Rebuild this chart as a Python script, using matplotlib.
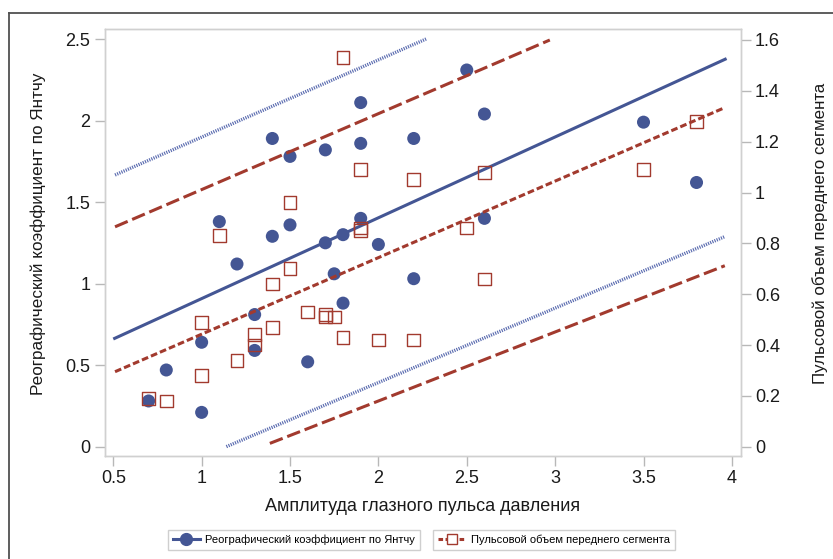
import matplotlib
matplotlib.use("Agg")
import matplotlib.pyplot as plt
from matplotlib.lines import Line2D

plt.rcParams['font.family'] = ['Liberation Sans', 'DejaVu Sans']

# ---- данные ----
# реографический коэффициент (левая ось), кружки
rk_x = [0.7, 0.8, 1.0, 1.0, 1.1, 1.2, 1.3, 1.3, 1.4, 1.4, 1.5, 1.5, 1.6, 1.7, 1.7,
        1.75, 1.8, 1.8, 1.9, 1.9, 1.9, 2.0, 2.2, 2.2, 2.5, 2.6, 2.6, 3.5, 3.8]
rk_y = [0.28, 0.47, 0.21, 0.64, 1.38, 1.12, 0.59, 0.81, 1.29, 1.89, 1.36, 1.78, 0.52, 1.25, 1.82,
        1.06, 0.88, 1.30, 1.40, 1.86, 2.11, 1.24, 1.03, 1.89, 2.31, 1.40, 2.04, 1.99, 1.62]

# пульсовой объем (правая ось), квадраты
po_x = [0.7, 0.8, 1.0, 1.0, 1.1, 1.2, 1.3, 1.3, 1.4, 1.4, 1.5, 1.5, 1.6, 1.7, 1.7,
        1.75, 1.8, 1.8, 1.9, 1.9, 1.9, 2.0, 2.2, 2.2, 2.5, 2.6, 2.6, 3.5, 3.8]
po_y = [0.19, 0.18, 0.28, 0.49, 0.83, 0.34, 0.40, 0.44, 0.47, 0.64, 0.70, 0.96, 0.53, 0.52, 0.51,
        0.51, 0.43, 1.53, 0.86, 0.85, 1.09, 0.42, 0.42, 1.05, 0.86, 0.66, 1.08, 1.09, 1.28]

# линии регрессии и границы прогноза (концы отрезков)
rk_fit_x, rk_fit_y = [0.5, 3.97], [0.66, 2.38]
rk_up_x, rk_up_y = [0.51, 2.27], [1.666, 2.5]
rk_lo_x, rk_lo_y = [1.14, 3.96], [0.0, 1.288]
po_fit_x, po_fit_y = [0.51, 3.96], [0.295, 1.334]
po_up_x, po_up_y = [0.51, 2.97], [0.865, 1.6]
po_lo_x, po_lo_y = [1.386, 3.96], [0.013, 0.712]

x_ticks = [0.5, 1, 1.5, 2, 2.5, 3, 3.5, 4]
x_labels = ['0.5', '1', '1.5', '2', '2.5', '3', '3.5', '4']
yl_ticks = [0, 0.5, 1, 1.5, 2, 2.5]
yl_labels = ['0', '0.5', '1', '1.5', '2', '2.5']
yr_ticks = [0, 0.2, 0.4, 0.6, 0.8, 1, 1.2, 1.4, 1.6]
yr_labels = ['0', '0.2', '0.4', '0.6', '0.8', '1', '1.2', '1.4', '1.6']

name1 = 'Реографический коэффициент по Янтчу'
name2 = 'Пульсовой объем переднего сегмента'

BLUE = '#445694'
BLUE_DOT = '#5b6cb0'
RED = '#a23a2e'
GRID = '#d0d0d0'

fig = plt.figure(figsize=(8.33, 5.59), dpi=100)
ax1 = fig.add_axes([0.126, 0.185, 0.763, 0.763])
ax2 = ax1.twinx()

# левая ось
ax1.plot(rk_fit_x, rk_fit_y, color=BLUE, lw=2.2, solid_capstyle='butt', zorder=3)
ax1.plot(rk_up_x, rk_up_y, color=BLUE_DOT, lw=2.4, ls=(0, (0.35, 0.35)), zorder=3)
ax1.plot(rk_lo_x, rk_lo_y, color=BLUE_DOT, lw=2.4, ls=(0, (0.35, 0.35)), zorder=3)
ax1.scatter(rk_x, rk_y, s=88, color=BLUE, edgecolors='none', zorder=4)

# правая ось
ax2.plot(po_fit_x, po_fit_y, color=RED, lw=2.2, ls=(0, (2.2, 1.0)), zorder=3)
ax2.plot(po_up_x, po_up_y, color=RED, lw=2.2, ls=(0, (4.5, 1.6)), zorder=3)
ax2.plot(po_lo_x, po_lo_y, color=RED, lw=2.2, ls=(0, (4.5, 1.6)), zorder=3)
ax2.scatter(po_x, po_y, s=85, marker='s', facecolors='none', edgecolors=RED,
            linewidths=1.0, zorder=4)

ax1.set_xlim(0.453, 4.049)
ax1.set_ylim(-0.055, 2.561)
ax2.set_ylim(-0.035, 1.643)

ax1.set_xticks(x_ticks)
ax1.set_xticklabels(x_labels)
ax1.set_yticks(yl_ticks)
ax1.set_yticklabels(yl_labels)
ax2.set_yticks(yr_ticks)
ax2.set_yticklabels(yr_labels)

for ax in (ax1, ax2):
    for sp in ax.spines.values():
        sp.set_color(GRID)
        sp.set_linewidth(1.0)
    ax.tick_params(axis='both', length=7.5, width=1.0, color='#b8b8b8',
                   labelsize=13, labelcolor='#1a1a1a', pad=3)

ax1.set_xlabel('Амплитуда глазного пульса давления', fontsize=13, color='#1a1a1a', labelpad=8)
ax1.set_ylabel(name1, fontsize=12.3, color='#1a1a1a')
ax2.set_ylabel(name2, fontsize=12.2, color='#1a1a1a', rotation=90)
ax1.yaxis.set_label_coords(-0.092, 0.52)
ax2.yaxis.set_label_coords(1.112, 0.52)

# легенда: две отдельные рамки
h1 = Line2D([], [], color=BLUE, lw=2.2, marker='o', markersize=8.5,
            markeredgecolor=BLUE)
h2 = Line2D([], [], color=RED, lw=2.2, ls=(0, (1.5, 0.8)), marker='s', markersize=7.5,
            markerfacecolor='white', markeredgecolor=RED, markeredgewidth=1.0)
for h, name, cx in ((h1, name1, 0.353), (h2, name2, 0.665)):
    lg = fig.legend([h], [name], loc='center', bbox_to_anchor=(cx, 0.034),
                    fontsize=8, frameon=True, fancybox=False, framealpha=1,
                    edgecolor='#cfcfcf', handlelength=2.4, handletextpad=0.5,
                    borderpad=0.45, numpoints=1, borderaxespad=0)
    lg.get_frame().set_linewidth(1.0)

# рамка скриншота слева и сверху
fig.add_artist(Line2D([9 / 833, 9 / 833], [0, 1 - 13 / 559], color='#505050', lw=1.3))
fig.add_artist(Line2D([9 / 833, 1], [1 - 13 / 559, 1 - 13 / 559], color='#505050', lw=1.3))

fig.savefig('out.png', dpi=100)
